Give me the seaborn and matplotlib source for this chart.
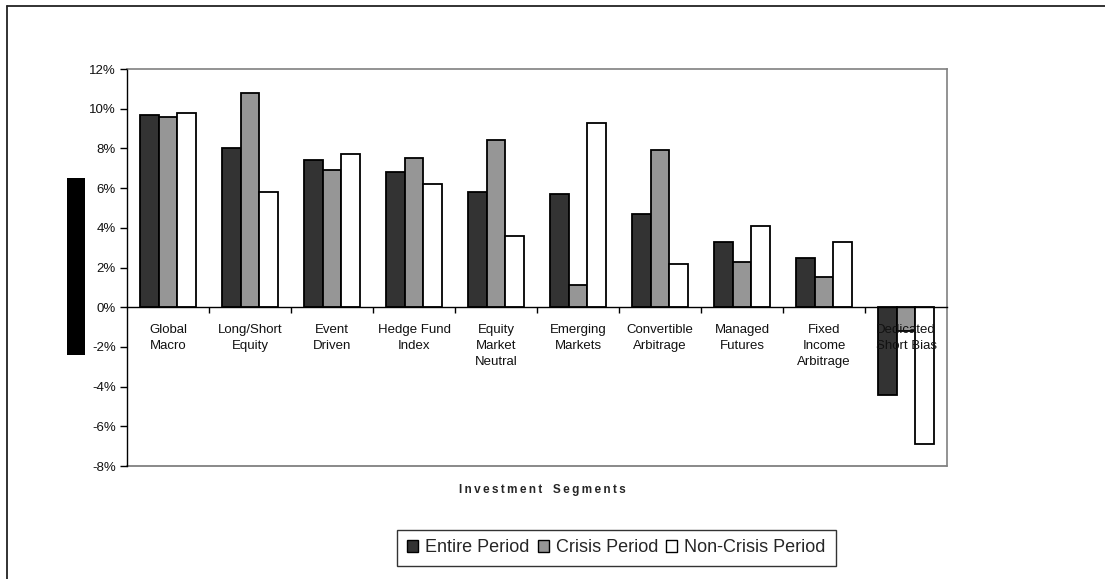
import numpy as np
import pandas as pd
import matplotlib
matplotlib.use("Agg")
import matplotlib.pyplot as plt
import seaborn as sns
from matplotlib.patches import Patch, Rectangle
from matplotlib.lines import Line2D
from matplotlib.ticker import FuncFormatter, FixedLocator

categories = ["Global\nMacro", "Long/Short\nEquity", "Event\nDriven", "Hedge Fund\nIndex",
              "Equity\nMarket\nNeutral", "Emerging\nMarkets", "Convertible\nArbitrage",
              "Managed\nFutures", "Fixed\nIncome\nArbitrage", "Dedicated\nShort Bias"]
series_names = ["Entire Period", "Crisis Period", "Non-Crisis Period"]
entire_period = [9.7, 8.0, 7.4, 6.8, 5.8, 5.7, 4.7, 3.3, 2.5, -4.4]
crisis_period = [9.6, 10.8, 6.9, 7.5, 8.4, 1.1, 7.9, 2.3, 1.5, -1.2]
noncrisis_period = [9.8, 5.8, 7.7, 6.2, 3.6, 9.3, 2.2, 4.1, 3.3, -6.9]
y_ticks = [-8, -6, -4, -2, 0, 2, 4, 6, 8, 10, 12]
x_title = "Investment Segments"

sns.set_theme(style="white")
plt.rcParams['font.family'] = ['Liberation Sans', 'DejaVu Sans']

df = pd.DataFrame({
    "Segment": categories * 3,
    "Period": [s for s in series_names for _ in categories],
    "Return": entire_period + crisis_period + noncrisis_period,
})
palette = {"Entire Period": "#333333", "Crisis Period": "#969696", "Non-Crisis Period": "#ffffff"}

fig = plt.figure(figsize=(11.05, 5.79), dpi=100)
ax = fig.add_axes([127/1105, 1-466/579, 820/1105, 397/579])

sns.barplot(data=df, x="Segment", y="Return", hue="Period", order=categories,
            hue_order=series_names, palette=palette, width=0.68, gap=0,
            edgecolor="black", linewidth=1.3, saturation=1, ax=ax, legend=False)

ax.set_axisbelow(False)
ax.set_xlim(-0.5, len(categories) - 0.5)
ax.set_ylim(y_ticks[0], y_ticks[-1])
ax.set_yticks(y_ticks)
ax.yaxis.set_major_formatter(FuncFormatter(lambda v, p: f"{int(v)}%"))
ax.tick_params(axis="y", direction="out", length=5, width=1, color="black",
               labelsize=9.5, pad=3, left=True, labelcolor="#111111")

ax.spines["bottom"].set_position(("data", 0))
ax.spines["bottom"].set_color("black")
ax.spines["bottom"].set_linewidth(1)
ax.spines["left"].set_color("black")
ax.spines["left"].set_linewidth(1)
for s in ["top", "right"]:
    ax.spines[s].set_color("#808080")
    ax.spines[s].set_linewidth(1.2)
ax.add_line(Line2D([0, 1], [0, 0], transform=ax.transAxes, color="#808080", lw=1.3, clip_on=False))

ax.set_xticks(range(len(categories)))
ax.set_xticklabels(categories, fontsize=9.5)
for lbl in ax.get_xticklabels():
    lbl.set_linespacing(1.45)
ax.tick_params(axis="x", which="major", length=0, pad=12, labelcolor="#111111")
ax.xaxis.set_minor_locator(FixedLocator(np.arange(0.5, len(categories) - 0.5, 1)))
ax.tick_params(axis="x", which="minor", direction="out", length=4, width=1, color="black", bottom=True)
ax.set_xlabel("")
ax.set_ylabel("")

spaced_title = "\u2009".join(x_title.replace(" ", "\u2002"))
fig.text(542/1105, 1-490/579, spaced_title, fontsize=8.5, fontweight="bold",
         ha="center", va="center")

# black vertical bar on the left (rendered y-axis title)
fig.add_artist(Rectangle((67/1105, 1-355/579), 18/1105, 177/579, transform=fig.transFigure,
                         facecolor="black", edgecolor="none"))

# outer frame
fig.add_artist(Line2D([7/1105, 1], [1-6/579, 1-6/579], transform=fig.transFigure, color="#222222", lw=1.3))
fig.add_artist(Line2D([7/1105, 7/1105], [0, 1-6/579], transform=fig.transFigure, color="#222222", lw=1.3))

handles = [Patch(facecolor=palette[s], edgecolor="black", linewidth=1, label=s) for s in series_names]
leg = fig.legend(handles=handles, loc="center", bbox_to_anchor=(616.5/1105, 1-548/579), ncol=3,
                 fontsize=13, frameon=True, fancybox=False, edgecolor="black",
                 handlelength=0.6, handleheight=0.6, handletextpad=0.4, columnspacing=0.45,
                 borderpad=0.55, borderaxespad=0)
leg.get_frame().set_linewidth(1)

fig.savefig("out.png", dpi=100, facecolor="white")
